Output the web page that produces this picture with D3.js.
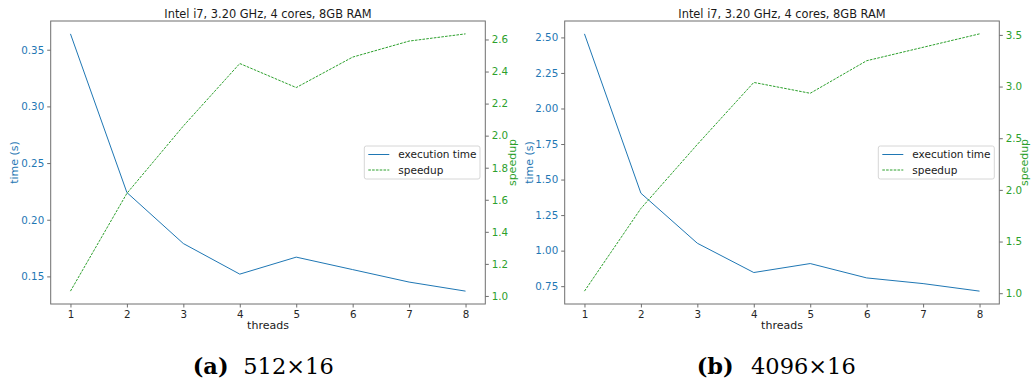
<!DOCTYPE html>
<html>
<head>
<meta charset="utf-8">
<script src="https://cdn.jsdelivr.net/npm/d3@7"></script>
<style>
  html, body { margin: 0; padding: 0; background: #fff; }
  svg { display: block; }
  text { font-family: "DejaVu Sans", sans-serif; }
</style>
</head>
<body>
<svg id="fig" width="1031" height="382"></svg>
<script>
// Thread counts on the x axis
const threads = [1, 2, 3, 4, 5, 6, 7, 8];

// 512x16 run: execution time (s) and speedup
const time512 = [0.364, 0.224, 0.179, 0.152, 0.167, 0.156, 0.145, 0.137];
const speedup512 = [1.03, 1.64, 2.06, 2.45, 2.30, 2.49, 2.59, 2.635];

// 4096x16 run: execution time (s) and speedup
const time4096 = [2.525, 1.404, 1.052, 0.846, 0.909, 0.808, 0.768, 0.715];
const speedup4096 = [1.02, 1.82, 2.44, 3.04, 2.935, 3.25, 3.38, 3.51];

// Tick values
const xTicks = [1, 2, 3, 4, 5, 6, 7, 8];
const timeTicks512 = [0.15, 0.20, 0.25, 0.30, 0.35];
const speedTicks512 = [1.0, 1.2, 1.4, 1.6, 1.8, 2.0, 2.2, 2.4, 2.6];
const timeTicks4096 = [0.75, 1.00, 1.25, 1.50, 1.75, 2.00, 2.25, 2.50];
const speedTicks4096 = [1.0, 1.5, 2.0, 2.5, 3.0, 3.5];

const titleText = "Intel i7, 3.20 GHz, 4 cores, 8GB RAM";
const legendLabels = ["execution time", "speedup"];

const BLUE = "#1f77b4";
const GREEN = "#2ca02c";
const SPINE = "#6e6e6e";

const svg = d3.select("#fig");

// Extent padded by 5% on both sides
function padded(values) {
  const [lo, hi] = d3.extent(values);
  const m = (hi - lo) * 0.05;
  return [lo - m, hi + m];
}

function panel(opt) {
  const { left, right, top, bottom } = opt.box;
  const g = svg.append("g");

  const x = d3.scaleLinear().domain(padded(threads)).range([left, right]);
  const yT = d3.scaleLinear().domain(padded(opt.time)).range([bottom, top]);
  const yS = d3.scaleLinear().domain(padded(opt.speed)).range([bottom, top]);

  // Frame
  g.append("rect")
    .attr("x", left).attr("y", top)
    .attr("width", right - left).attr("height", bottom - top)
    .attr("fill", "none").attr("stroke", SPINE).attr("stroke-width", 1);

  // Axes
  const styleAxis = (sel, color) => {
    sel.select(".domain").remove();
    sel.selectAll(".tick line").attr("stroke", SPINE).attr("stroke-width", 1);
    sel.selectAll(".tick text")
      .attr("fill", color)
      .style("font-family", "DejaVu Sans, sans-serif")
      .style("font-size", "10.3px");
  };

  g.append("g")
    .attr("transform", `translate(0,${bottom})`)
    .call(d3.axisBottom(x).tickValues(xTicks).tickFormat(d3.format("d"))
      .tickSize(3.5).tickPadding(3))
    .call(s => styleAxis(s, "#262626"));

  g.append("g")
    .attr("transform", `translate(${left},0)`)
    .call(d3.axisLeft(yT).tickValues(opt.timeTicks).tickFormat(d3.format(".2f"))
      .tickSize(3.5).tickPadding(3))
    .call(s => styleAxis(s, BLUE));

  g.append("g")
    .attr("transform", `translate(${right},0)`)
    .call(d3.axisRight(yS).tickValues(opt.speedTicks).tickFormat(d3.format(".1f"))
      .tickSize(3.5).tickPadding(3))
    .call(s => styleAxis(s, GREEN));

  // Lines
  const timeLine = d3.line().x((d, i) => x(threads[i])).y(d => yT(d));
  const speedLine = d3.line().x((d, i) => x(threads[i])).y(d => yS(d));

  g.append("path").datum(opt.time)
    .attr("d", timeLine)
    .attr("fill", "none").attr("stroke", BLUE).attr("stroke-width", 1);

  g.append("path").datum(opt.speed)
    .attr("d", speedLine)
    .attr("fill", "none").attr("stroke", GREEN).attr("stroke-width", 1)
    .attr("stroke-dasharray", "2.6,1.2");

  // Title
  g.append("text")
    .attr("x", (left + right) / 2).attr("y", 18)
    .attr("text-anchor", "middle")
    .attr("fill", "#1a1a1a")
    .style("font-size", "11.4px")
    .text(titleText);

  // Axis labels
  g.append("text")
    .attr("x", (left + right) / 2).attr("y", 328.5)
    .attr("text-anchor", "middle")
    .attr("fill", "#1a1a1a")
    .style("font-size", "11px")
    .text("threads");

  g.append("text")
    .attr("transform", `translate(${opt.timeLabelX},${(top + bottom) / 2}) rotate(-90)`)
    .attr("text-anchor", "middle")
    .attr("dominant-baseline", "central")
    .attr("fill", BLUE)
    .style("font-size", "11px")
    .text("time (s)");

  g.append("text")
    .attr("transform", `translate(${opt.speedLabelX},${(top + bottom) / 2}) rotate(-90)`)
    .attr("text-anchor", "middle")
    .attr("dominant-baseline", "central")
    .attr("fill", GREEN)
    .style("font-size", "11px")
    .text("speedup");

  // Legend
  const lg = g.append("g").attr("transform", `translate(${opt.legendX},146)`);
  lg.append("rect")
    .attr("x", 0).attr("y", 0)
    .attr("width", opt.legendW).attr("height", 33)
    .attr("rx", 2).attr("ry", 2)
    .attr("fill", "#fff").attr("fill-opacity", 0.8)
    .attr("stroke", "#d6d6d6").attr("stroke-width", 1);

  const entries = [
    { label: legendLabels[0], color: BLUE, dash: null },
    { label: legendLabels[1], color: GREEN, dash: "2.6,1.2" }
  ];
  entries.forEach((e, i) => {
    const yy = 8.5 + i * 15.5;
    lg.append("line")
      .attr("x1", 4).attr("x2", 25)
      .attr("y1", yy).attr("y2", yy)
      .attr("stroke", e.color).attr("stroke-width", 1)
      .attr("stroke-dasharray", e.dash);
    lg.append("text")
      .attr("x", 34).attr("y", yy + 3.8)
      .attr("fill", "#1a1a1a")
      .style("font-size", "10.5px")
      .text(e.label);
  });

  // Sub-caption
  const cap = svg.append("text")
    .attr("x", opt.capX).attr("y", 374)
    .style("font-family", "DejaVu Serif, serif")
    .style("font-size", "22.5px")
    .attr("fill", "#000");
  cap.append("tspan").style("font-weight", "bold").text(opt.capTag);
  cap.append("tspan").attr("x", opt.capX2).text(opt.capText);
}

panel({
  box: { left: 50.7, right: 485.3, top: 21, bottom: 304 },
  time: time512, speed: speedup512,
  timeTicks: timeTicks512, speedTicks: speedTicks512,
  timeLabelX: 14, speedLabelX: 512,
  legendX: 364.3, legendW: 115.7,
  capX: 192.7, capX2: 243.3, capTag: "(a)", capText: "512×16"
});

panel({
  box: { left: 564.7, right: 999.3, top: 21, bottom: 304 },
  time: time4096, speed: speedup4096,
  timeTicks: timeTicks4096, speedTicks: speedTicks4096,
  timeLabelX: 529.5, speedLabelX: 1024.5,
  legendX: 878.3, legendW: 116,
  capX: 696.7, capX2: 751, capTag: "(b)", capText: "4096×16"
});
</script>
</body>
</html>
